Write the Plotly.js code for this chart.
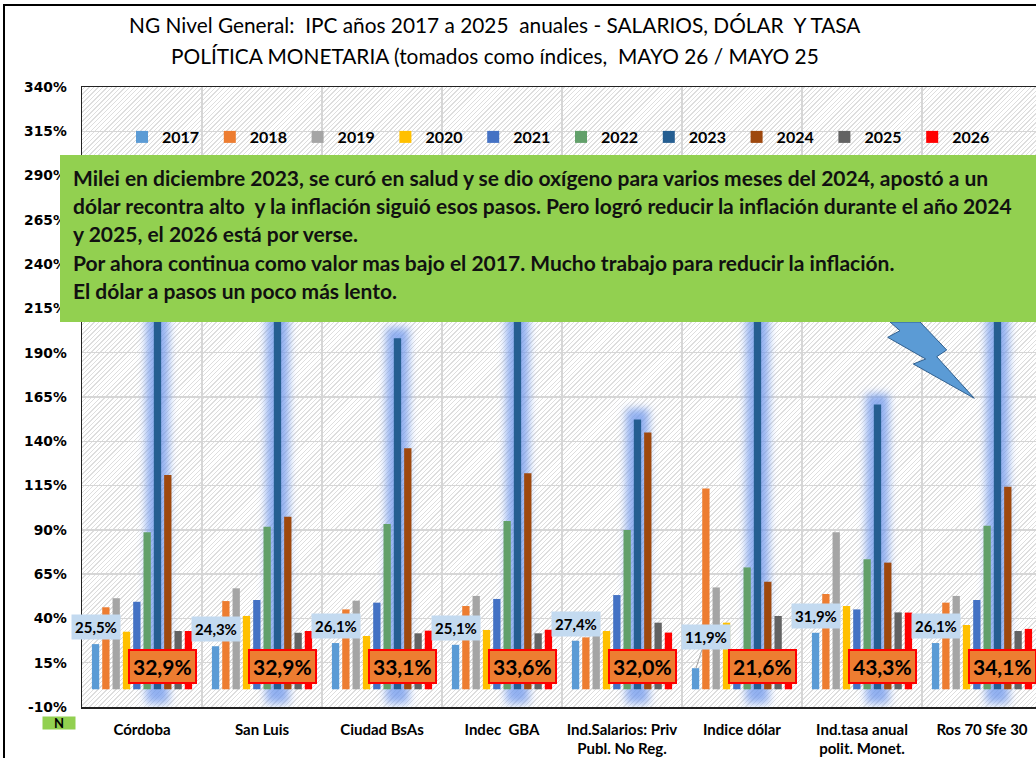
<!DOCTYPE html>
<html>
<head>
<meta charset="utf-8">
<script src="https://cdn.plot.ly/plotly-3.0.1.min.js"></script>
<style>
  html, body { margin: 0; padding: 0; background: #fff; overflow: hidden; }
  #wrap { position: relative; width: 1036px; height: 758px; }
  #hatch { position: absolute; left: 82px; top: 87px; width: 954px; height: 620px;
    background: repeating-linear-gradient(-45deg, #dedede 0px, #dedede 1px, #ffffff 1px, #ffffff 3.2px); }
  #chart { position: absolute; left: 0; top: 0; width: 1036px; height: 758px; }
  #frameL { position: absolute; left: 3px; top: 4px; width: 1.5px; height: 754px; background: #000; }
  #frameT { position: absolute; left: 3px; top: 4px; width: 1033px; height: 1.5px; background: #000; }
</style>
</head>
<body>
<div id="wrap">
  <div id="hatch"></div>
  <div id="chart"></div>
  <div id="frameL"></div>
  <div id="frameT"></div>
</div>
<script>
// ---------------- DATA ----------------
const categories = ['Córdoba', 'San Luis', 'Ciudad BsAs', 'Indec  GBA',
  'Ind.Salarios: Priv<br>Publ. No Reg.', 'Indice dólar',
  'Ind.tasa anual<br>polit. Monet.', 'Ros 70 Sfe 30'];
const years = ['2017', '2018', '2019', '2020', '2021', '2022', '2023', '2024', '2025', '2026'];

const v2017 = [25.5, 24.3, 26.1, 25.1, 27.4, 11.9, 31.9, 26.1];
const v2018 = [46.3, 49.8, 45.1, 47.0, 29.3, 113.4, 53.8, 48.9];
const v2019 = [51.4, 57.0, 50.0, 52.7, 30.1, 57.5, 88.6, 52.7];
const v2020 = [32.5, 41.4, 30.1, 33.5, 32.9, 37.6, 47.0, 36.3];
const v2021 = [49.4, 50.4, 48.9, 51.0, 53.2, 18.0, 45.1, 50.4];
const v2022 = [88.6, 91.8, 93.3, 95.0, 89.9, 68.8, 73.4, 92.3];
const v2023 = [276.0, 282.0, 198.1, 276.4, 152.3, 283.0, 160.8, 280.0];
const v2024 = [120.9, 97.4, 136.0, 121.9, 145.0, 60.7, 71.5, 114.4];
const v2025 = [32.9, 31.9, 31.6, 31.6, 37.6, 41.4, 43.4, 32.9];
const v2026 = [32.9, 32.9, 33.1, 33.6, 32.0, 21.6, 43.3, 34.1];

const yTickVals = [-10, 15, 40, 65, 90, 115, 140, 165, 190, 215, 240, 265, 290, 315, 340];

const titleLines = [
  'NG Nivel General:\u00a0 IPC años 2017 a 2025\u00a0 anuales - SALARIOS, DÓLAR\u00a0 Y TASA',
  'POLÍTICA MONETARIA (tomados como índices,\u00a0 MAYO 26 / MAYO 25'
];
const noteLines = [
  'Milei en diciembre 2023, se curó en salud y se dio oxígeno para varios meses del 2024, apostó a un',
  'dólar recontra alto\u00a0 y la inflación siguió esos pasos. Pero logró reducir la inflación durante el año 2024',
  'y 2025, el 2026 está por verse.',
  'Por ahora continua como valor mas bajo el 2017. Mucho trabajo para reducir la inflación.',
  'El dólar a pasos un poco más lento.'
];
const leaderLabelCategory = 'Indice dólar';

// ---------------- STYLE ----------------
const series = [v2017, v2018, v2019, v2020, v2021, v2022, v2023, v2024, v2025, v2026];
const colors = ['#5B9BD5', '#ED7D31', '#A5A5A5', '#FFC000', '#4472C4', '#62A06A',
  '#255E91', '#9E480E', '#636363', '#FF0000'];
const FONT = 'Lato, "Open Sans", sans-serif';
const AXFONT = '"DejaVu Sans", Verdana, sans-serif';
const BARGAP = 0.14, BARGROUPGAP = 0.29;
const PL = 82, PT = 87, PW = 954, PH = 620;
const XR = [-0.5, 7.45], YR = [-10, 340];
const px2x = px => (px - PL) / PW;
const py2y = py => (PT + PH - py) / PH;

const cv = document.createElement('canvas').getContext('2d');
function fitSize(lines, weight, target, maxSize) {
  let best = maxSize;
  lines.forEach((t, i) => {
    cv.font = weight + ' 100px Lato';
    const w = cv.measureText(t).width;
    const s = 100 * target[i] / w;
    if (s < best) best = s;
  });
  return best;
}
const titleSize = fitSize(titleLines, 'normal', [734, 652], 22);
const noteSize = fitSize([noteLines[0], noteLines[1]], 'bold', [933, 960], 21);

function fmt(v) { return v.toFixed(1).replace('.', ',') + '%'; }

// ---------------- TRACES ----------------
const traces = [];
// glow behind 2023 bars (base subplot, under the bars)
const glowIdx = years.indexOf('2023');
const groupW = 1 - BARGAP;
const slotW = groupW / years.length;
const glowCenter = -groupW / 2 + (glowIdx + 0.5) * slotW;
const glowW = 0.19;
traces.push({
  type: 'bar', x: categories, y: v2023.map(v => v + 14), base: -8,
  width: glowW, offset: glowCenter - glowW / 2,
  marker: { color: 'rgba(110,150,235,0.75)', line: { width: 0 } },
  showlegend: false, hoverinfo: 'skip', xaxis: 'x', yaxis: 'y'
});
series.forEach((vals, i) => {
  traces.push({
    type: 'bar', name: years[i], x: categories, y: vals,
    marker: { color: colors[i], line: { width: 0 } },
    xaxis: 'x2', yaxis: 'y2', hoverinfo: 'skip'
  });
});

// ---------------- ANNOTATIONS ----------------
const annotations = [];
titleLines.forEach((t, i) => {
  annotations.push({
    xref: 'paper', yref: 'paper', x: px2x(495), y: py2y(24 + i * 31),
    xanchor: 'center', yanchor: 'middle', showarrow: false, text: t,
    font: { family: FONT, size: titleSize, color: '#000' }
  });
});
noteLines.forEach((t, i) => {
  annotations.push({
    xref: 'paper', yref: 'paper', x: px2x(71), y: py2y(177 + i * 28.4),
    xanchor: 'left', yanchor: 'middle', showarrow: false, text: t,
    font: { family: FONT, size: noteSize, color: '#111', weight: 'bold' }
  });
});
annotations.push({
  xref: 'paper', yref: 'paper', x: px2x(59), y: py2y(723), xanchor: 'center', yanchor: 'middle',
  showarrow: false, text: 'N', width: 32, height: 12, bgcolor: '#92D050', borderpad: 0,
  font: { family: FONT, size: 13, color: '#000', weight: 'bold' }
});
categories.forEach((c, i) => {
  const leader = c === leaderLabelCategory;
  annotations.push({
    xref: 'x2', yref: 'y2', x: c, y: v2017[i], xshift: -46,
    yshift: leader ? 0 : 17, showarrow: leader, ax: 10, ay: -31,
    arrowhead: 0, arrowwidth: 1, arrowcolor: '#a6a6a6', standoff: 0,
    text: fmt(v2017[i]), bgcolor: '#C3DAF0', borderpad: 3,
    font: { family: FONT, size: 15, color: '#000', weight: 'bold' }
  });
  annotations.push({
    xref: 'x2', yref: 'y2', x: c, y: 13, xshift: 20, showarrow: false,
    text: fmt(v2026[i]), bgcolor: '#ED7D31', bordercolor: '#FF0000', borderwidth: 2, borderpad: 3,
    font: { family: FONT, size: 21, color: '#000', weight: 'bold' }
  });
});

// ---------------- SHAPES ----------------
const P = (x, y) => px2x(x).toFixed(5) + ',' + py2y(y).toFixed(5);
const bolt = [[890, 322], [900, 330.7], [887.7, 337.3], [925.7, 359], [913.3, 364],
  [974.3, 398.3], [936.7, 356.7], [946.7, 350], [920, 322]];
const shapes = [
  {
    type: 'path', xref: 'paper', yref: 'paper', layer: 'above',
    path: 'M' + bolt.map(p => P(p[0], p[1])).join('L') + 'Z',
    fillcolor: '#5B9BD5', line: { color: '#2F5F8F', width: 1 }
  },
  {
    type: 'rect', xref: 'paper', yref: 'paper', layer: 'above',
    x0: px2x(60), x1: px2x(1045), y0: py2y(322), y1: py2y(155),
    fillcolor: '#92D050', line: { width: 0 }
  }
];

// ---------------- LAYOUT ----------------
const layout = {
  width: 1036, height: 758,
  margin: { l: PL, r: 1036 - PL - PW, t: PT, b: 758 - PT - PH, pad: 0 },
  paper_bgcolor: 'rgba(0,0,0,0)', plot_bgcolor: 'rgba(0,0,0,0)',
  barmode: 'group', bargap: BARGAP, bargroupgap: BARGROUPGAP,
  font: { family: FONT, color: '#000' },
  showlegend: true,
  legend: {
    orientation: 'h', x: px2x(122), y: py2y(137), xanchor: 'left', yanchor: 'middle',
    entrywidth: 42.8, entrywidthmode: 'pixels', bgcolor: 'rgba(0,0,0,0)',
    font: { family: FONT, size: 16, color: '#000', weight: 'bold' }, tracegroupgap: 0
  },
  xaxis: {
    type: 'category', categoryorder: 'array', categoryarray: categories, range: XR,
    tickson: 'boundaries', showgrid: true, gridcolor: '#d6d6d6', gridwidth: 1.5,
    showline: true, linecolor: '#222', linewidth: 1.5, mirror: true, ticks: '',
    ticklabelstandoff: 8, fixedrange: true,
    tickfont: { family: FONT, size: 15, color: '#000', weight: 'bold' }
  },
  yaxis: {
    range: YR, tickvals: yTickVals, ticktext: yTickVals.map(v => v + '%'),
    showgrid: true, gridcolor: '#d6d6d6', gridwidth: 1.5, zeroline: false,
    showline: true, linecolor: '#222', linewidth: 1.5, mirror: true, ticks: '',
    ticklabelstandoff: 11, fixedrange: true,
    tickfont: { family: AXFONT, size: 13.8, color: '#000', weight: 'bold' }
  },
  xaxis2: {
    type: 'category', categoryorder: 'array', categoryarray: categories, range: XR,
    overlaying: 'x', visible: false, fixedrange: true
  },
  yaxis2: { range: YR, overlaying: 'y', visible: false, fixedrange: true },
  annotations: annotations,
  shapes: shapes
};

const gd = document.getElementById('chart');
Plotly.newPlot(gd, traces, layout, { displayModeBar: false, staticPlot: true }).then(() => {
  const NS = 'http://www.w3.org/2000/svg';
  const svg = gd.querySelector('svg.main-svg');
  let defs = svg.querySelector('defs');
  if (!defs) { defs = document.createElementNS(NS, 'defs'); svg.insertBefore(defs, svg.firstChild); }
  const f = document.createElementNS(NS, 'filter');
  f.setAttribute('id', 'glowblur');
  f.setAttribute('x', '-150%'); f.setAttribute('y', '-20%');
  f.setAttribute('width', '400%'); f.setAttribute('height', '140%');
  const b = document.createElementNS(NS, 'feGaussianBlur');
  b.setAttribute('stdDeviation', '4.5');
  f.appendChild(b); defs.appendChild(f);
  const sub = Array.from(gd.querySelectorAll('.cartesianlayer .subplot')).find(s => s.classList.contains('xy'));
  if (sub) {
    const tr = sub.querySelector('.barlayer .trace');
    if (tr) tr.setAttribute('filter', 'url(#glowblur)');
  }
});
</script>
</body>
</html>
